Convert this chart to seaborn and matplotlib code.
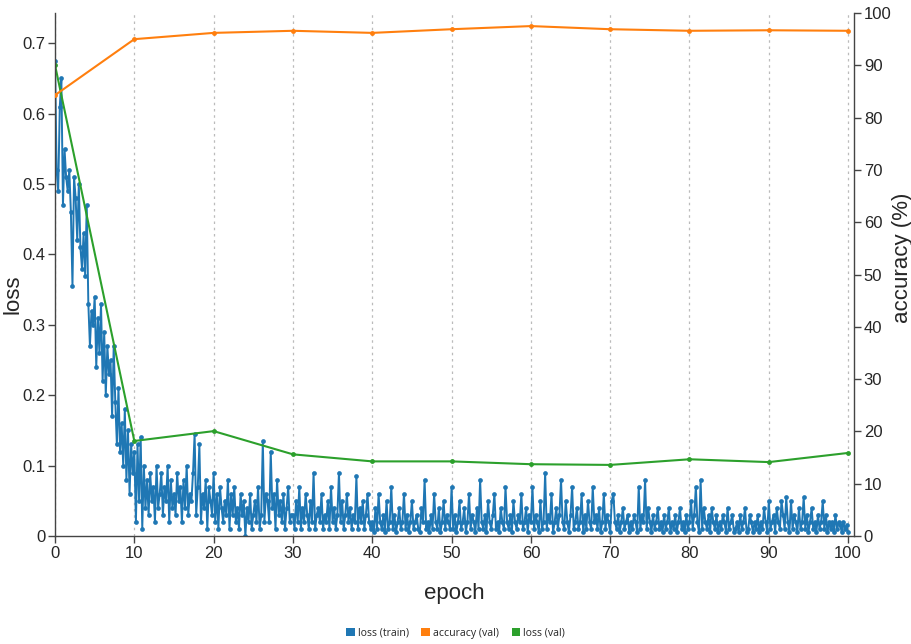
import numpy as np
import pandas as pd
import matplotlib
matplotlib.use("Agg")
import matplotlib.pyplot as plt
from matplotlib.patches import Patch
import seaborn as sns

# ---------------- data ----------------
steps_per_epoch = 5

train_loss_00 = [0.675, 0.52, 0.49, 0.61, 0.65, 0.47, 0.55, 0.51, 0.49, 0.52,
                 0.46, 0.355, 0.51, 0.48, 0.42, 0.50, 0.41, 0.38, 0.43, 0.37,
                 0.47, 0.33, 0.27, 0.32, 0.30, 0.34, 0.24, 0.31, 0.26, 0.33,
                 0.22, 0.29, 0.20, 0.27, 0.23, 0.25, 0.17, 0.27, 0.19, 0.13,
                 0.21, 0.12, 0.16, 0.10, 0.18, 0.08, 0.15, 0.06, 0.13, 0.09]
train_loss_10 = [0.12, 0.02, 0.13, 0.05, 0.14, 0.01, 0.10, 0.04, 0.08, 0.03,
                 0.09, 0.05, 0.07, 0.02, 0.10, 0.04, 0.06, 0.09, 0.03, 0.07,
                 0.05, 0.10, 0.02, 0.08, 0.04, 0.06, 0.03, 0.09, 0.05, 0.07,
                 0.02, 0.08, 0.04, 0.10, 0.03, 0.06, 0.05, 0.09, 0.145, 0.03,
                 0.07, 0.13, 0.02, 0.06, 0.04, 0.08, 0.01, 0.07, 0.05, 0.03]
train_loss_20 = [0.09, 0.02, 0.06, 0.01, 0.07, 0.04, 0.02, 0.05, 0.03, 0.08,
                 0.01, 0.06, 0.03, 0.07, 0.02, 0.04, 0.01, 0.06, 0.03, 0.05,
                 0.00, 0.04, 0.02, 0.06, 0.01, 0.03, 0.05, 0.02, 0.07, 0.01,
                 0.03, 0.135, 0.02, 0.06, 0.05, 0.02, 0.12, 0.04, 0.06, 0.01,
                 0.08, 0.03, 0.05, 0.02, 0.06, 0.01, 0.04, 0.07, 0.02, 0.03]
train_loss_30 = [0.03, 0.01, 0.05, 0.02, 0.07, 0.01, 0.04, 0.02, 0.06, 0.03,
                 0.01, 0.05, 0.02, 0.09, 0.01, 0.03, 0.04, 0.02, 0.06, 0.01,
                 0.03, 0.02, 0.05, 0.01, 0.07, 0.02, 0.04, 0.01, 0.03, 0.09,
                 0.02, 0.05, 0.01, 0.03, 0.06, 0.02, 0.04, 0.01, 0.03, 0.02,
                 0.085, 0.01, 0.04, 0.02, 0.05, 0.01, 0.03, 0.06, 0.02, 0.01]
train_loss_40 = [0.02, 0.005, 0.04, 0.01, 0.06, 0.02, 0.01, 0.03, 0.005, 0.05,
                 0.01, 0.02, 0.07, 0.01, 0.03, 0.005, 0.02, 0.04, 0.01, 0.02,
                 0.06, 0.01, 0.03, 0.005, 0.02, 0.05, 0.01, 0.02, 0.03, 0.01,
                 0.005, 0.04, 0.02, 0.08, 0.01, 0.02, 0.005, 0.03, 0.01, 0.06,
                 0.02, 0.01, 0.04, 0.005, 0.02, 0.05, 0.01, 0.03, 0.02, 0.01]
train_loss_50 = [0.07, 0.01, 0.03, 0.005, 0.02, 0.05, 0.01, 0.02, 0.04, 0.005,
                 0.02, 0.06, 0.01, 0.03, 0.02, 0.005, 0.04, 0.01, 0.08, 0.02,
                 0.01, 0.03, 0.005, 0.05, 0.02, 0.01, 0.03, 0.06, 0.01, 0.02,
                 0.005, 0.04, 0.02, 0.01, 0.07, 0.02, 0.01, 0.03, 0.005, 0.05,
                 0.02, 0.01, 0.03, 0.02, 0.06, 0.01, 0.02, 0.04, 0.005, 0.03]
train_loss_60 = [0.02, 0.07, 0.01, 0.03, 0.02, 0.005, 0.05, 0.01, 0.02, 0.09,
                 0.01, 0.03, 0.02, 0.06, 0.005, 0.02, 0.04, 0.01, 0.03, 0.08,
                 0.02, 0.01, 0.05, 0.02, 0.005, 0.03, 0.07, 0.01, 0.02, 0.04,
                 0.01, 0.02, 0.06, 0.005, 0.03, 0.01, 0.05, 0.02, 0.01, 0.07,
                 0.02, 0.03, 0.01, 0.04, 0.005, 0.02, 0.06, 0.01, 0.03, 0.02]
train_loss_70 = [0.005, 0.05, 0.06, 0.02, 0.01, 0.03, 0.005, 0.02, 0.04, 0.01,
                 0.02, 0.03, 0.005, 0.02, 0.01, 0.03, 0.02, 0.005, 0.07, 0.01,
                 0.03, 0.02, 0.08, 0.01, 0.04, 0.02, 0.005, 0.03, 0.01, 0.02,
                 0.04, 0.01, 0.02, 0.005, 0.03, 0.01, 0.02, 0.04, 0.005, 0.02,
                 0.01, 0.03, 0.005, 0.02, 0.04, 0.01, 0.02, 0.005, 0.03, 0.01]
train_loss_80 = [0.02, 0.05, 0.01, 0.03, 0.07, 0.02, 0.005, 0.08, 0.01, 0.04,
                 0.02, 0.01, 0.03, 0.005, 0.04, 0.02, 0.01, 0.03, 0.005, 0.02,
                 0.01, 0.03, 0.02, 0.005, 0.04, 0.01, 0.02, 0.03, 0.005, 0.01,
                 0.02, 0.005, 0.03, 0.01, 0.02, 0.04, 0.005, 0.01, 0.03, 0.02,
                 0.005, 0.02, 0.01, 0.03, 0.005, 0.02, 0.01, 0.04, 0.02, 0.005]
train_loss_90 = [0.05, 0.01, 0.02, 0.03, 0.005, 0.04, 0.02, 0.01, 0.05, 0.03,
                 0.01, 0.055, 0.02, 0.005, 0.05, 0.01, 0.03, 0.02, 0.005, 0.04,
                 0.01, 0.02, 0.055, 0.01, 0.03, 0.005, 0.02, 0.04, 0.01, 0.02,
                 0.005, 0.03, 0.01, 0.02, 0.05, 0.01, 0.03, 0.005, 0.02, 0.01,
                 0.02, 0.005, 0.03, 0.01, 0.02, 0.015, 0.005, 0.02, 0.01, 0.015,
                 0.005]

val_epochs = [0, 10, 20, 30, 40, 50, 60, 70, 80, 90, 100]
val_accuracy = [84.3, 95.0, 96.2, 96.6, 96.2, 96.9, 97.5, 96.9, 96.6, 96.7, 96.6]
val_loss = [0.669, 0.135, 0.149, 0.116, 0.106, 0.106, 0.102, 0.101, 0.109, 0.105, 0.118]

loss_ticks = [0, 0.1, 0.2, 0.3, 0.4, 0.5, 0.6, 0.7]
loss_tick_labels = ["0", "0.1", "0.2", "0.3", "0.4", "0.5", "0.6", "0.7"]
acc_ticks = [0, 10, 20, 30, 40, 50, 60, 70, 80, 90, 100]
epoch_ticks = [0, 10, 20, 30, 40, 50, 60, 70, 80, 90, 100]
legend_labels = ["loss (train)", "accuracy (val)", "loss (val)"]

# ---------------- build frames ----------------
train_loss = (train_loss_00 + train_loss_10 + train_loss_20 + train_loss_30 +
              train_loss_40 + train_loss_50 + train_loss_60 + train_loss_70 +
              train_loss_80 + train_loss_90)
train_df = pd.DataFrame({"epoch": np.arange(len(train_loss)) / steps_per_epoch,
                         "loss": train_loss})
val_df = pd.DataFrame({"epoch": val_epochs, "accuracy": val_accuracy, "loss": val_loss})

c_blue, c_orange, c_green = "#1f77b4", "#ff7f0e", "#2ca02c"

sns.set_style("white")
plt.rcParams["font.family"] = ["Liberation Sans", "DejaVu Sans"]

fig = plt.figure(figsize=(9.11, 6.44), dpi=100)
ax = fig.add_axes([0.0604, 0.1677, 0.8771, 0.8121])
ax2 = ax.twinx()

# dotted vertical grid
ax.set_xticks(epoch_ticks)
ax.xaxis.grid(True, linestyle=(0, (2, 3)), color="#bbbbbb", linewidth=0.9)
ax.set_axisbelow(True)

sns.lineplot(data=train_df, x="epoch", y="loss", ax=ax, color=c_blue,
             marker="o", markersize=3.4, markeredgewidth=0, linewidth=1.4)
sns.lineplot(data=val_df, x="epoch", y="loss", ax=ax, color=c_green,
             marker="o", markersize=3.5, markeredgewidth=0, linewidth=1.5)
sns.lineplot(data=val_df, x="epoch", y="accuracy", ax=ax2, color=c_orange,
             marker="o", markersize=3.5, markeredgewidth=0, linewidth=1.5)

ax.set_xlim(0, 100.75)
ax.set_ylim(0, 0.743)
ax2.set_ylim(0, 100)
ax.set_yticks(loss_ticks)
ax.set_yticklabels(loss_tick_labels)
ax2.set_yticks(acc_ticks)

for a in (ax, ax2):
    a.tick_params(axis="both", which="major", labelsize=12, length=5,
                  width=1, color="#444444", direction="out", pad=2)
    for s in a.spines.values():
        s.set_color("#444444")
        s.set_linewidth(1.0)
    a.spines["top"].set_visible(False)
ax.spines["right"].set_visible(False)
ax2.spines["left"].set_visible(False)
ax2.spines["bottom"].set_visible(False)
ax.tick_params(axis="y", left=True)
ax.tick_params(axis="x", bottom=True)
ax2.tick_params(axis="y", right=True)

ax.set_xlabel("epoch", fontsize=16)
ax.set_ylabel("loss", fontsize=16)
ax2.set_ylabel("accuracy (%)", fontsize=16)
ax.xaxis.set_label_coords(0.5, -0.09)
ax.yaxis.set_label_coords(-0.039, 0.463)
ax2.yaxis.set_label_coords(1.047, 0.531)

handles = [Patch(facecolor=c, edgecolor="none") for c in (c_blue, c_orange, c_green)]
fig.legend(handles, legend_labels, loc="center", bbox_to_anchor=(0.5, 0.017),
           ncol=3, frameon=False, handlelength=0.8, handleheight=0.8,
           handletextpad=0.3, columnspacing=1.2,
           prop={"family": ["Open Sans", "DejaVu Sans"], "size": 7.6})

fig.savefig("out.png", dpi=100)
